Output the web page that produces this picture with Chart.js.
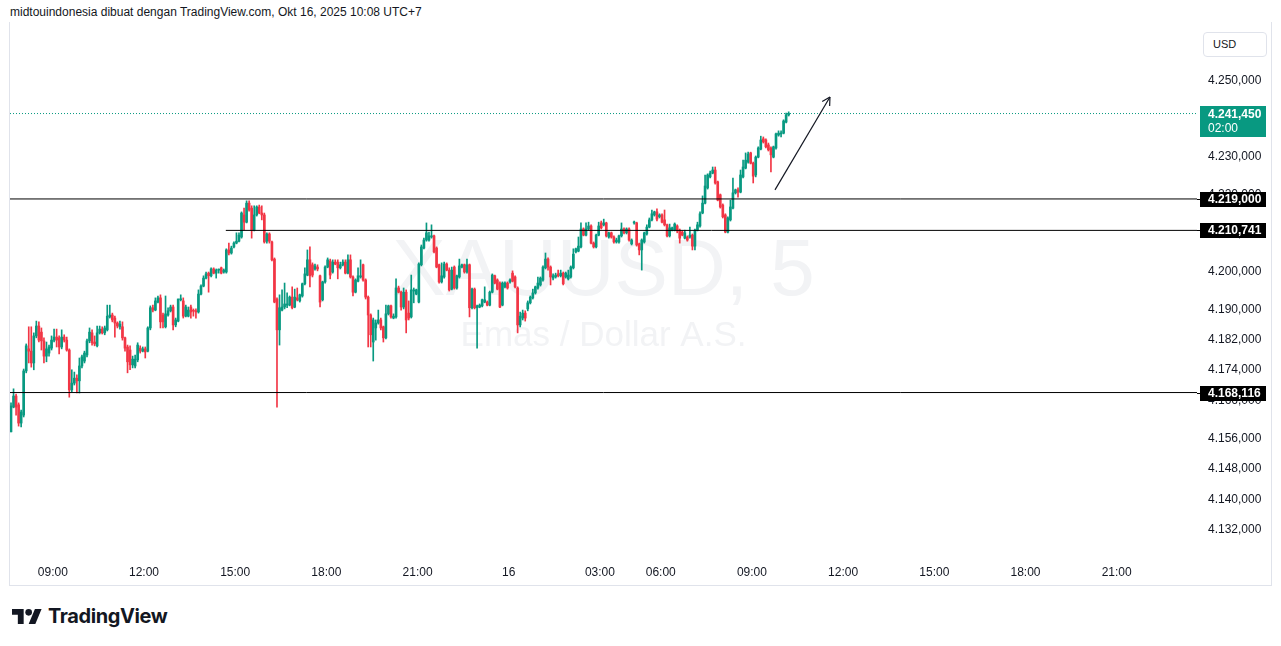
<!DOCTYPE html>
<html>
<head>
<meta charset="utf-8">
<script src="https://cdn.jsdelivr.net/npm/chart.js"></script>
<style>
html,body{margin:0;padding:0;background:#fff;width:1281px;height:646px;overflow:hidden;font-family:"Liberation Sans",Arial,sans-serif;}
#hdr{position:absolute;left:10px;top:5px;font-size:12px;line-height:14px;color:#131722;white-space:nowrap;}
#frame{position:absolute;left:9px;top:22px;width:1261px;height:563px;border-left:1px solid #e0e3eb;border-right:1px solid #e0e3eb;border-bottom:1px solid #e0e3eb;box-sizing:content-box;}
#wrap{position:absolute;left:10px;top:22px;width:1261px;height:564px;}
#usd{position:absolute;left:1203px;top:32px;border:1px solid #e0e3eb;border-radius:4px;font-size:11px;line-height:23px;color:#131722;padding-left:9px;box-sizing:border-box;width:64px;height:25px;background:#fff;}
#logo{position:absolute;left:12px;top:603px;height:26px;display:flex;align-items:center;}
#logo span{font-family:Inter,"Liberation Sans",sans-serif;font-weight:700;font-size:20px;color:#131722;letter-spacing:-0.4px;margin-left:6px;}
</style>
</head>
<body>
<div id="hdr">midtouindonesia dibuat dengan TradingView.com, Okt 16, 2025 10:08 UTC+7</div>
<div id="frame"></div>
<div id="wrap"><canvas id="c" width="1261" height="564" style="width:1261px;height:564px;"></canvas></div>
<div id="usd">USD</div>
<div id="logo"><svg width="30" height="15" viewBox="0 4 36 18"><path d="M14 22H7V11H0V4h14v18z" fill="#131722"/><circle cx="20" cy="8" r="4" fill="#131722"/><path d="M28 22h-8l7.5-18h8L28 22z" fill="#131722"/></svg><span>TradingView</span></div>
<script>
// ---- data (XAUUSD, 5 min candles) ----
const opens = [
4157.8,4164.3,4167.2,4164.9,4160.1,4162.2,4173.8,4179.6,4179.0,4175.9,
4183.0,4185.6,4184.0,4181.7,4177.7,4178.5,4179.8,4181.9,4182.7,4182.5,
4180.1,4182.7,4181.9,4179.3,4168.8,4170.6,4171.9,4171.2,4175.1,4176.4,
4178.0,4181.7,4183.8,4181.4,4180.4,4183.8,4184.8,4183.8,4184.6,4188.0,
4188.5,4187.7,4186.4,4185.4,4185.4,4182.5,4180.1,4179.3,4175.4,4175.1,
4176.7,4179.8,4179.0,4179.6,4179.0,4185.1,4190.4,4189.8,4191.9,4193.0,
4188.5,4185.4,4188.5,4189.6,4190.6,4185.9,4186.9,4192.5,4192.2,4188.2,
4188.2,4190.6,4189.6,4189.6,4189.3,4194.0,4196.1,4198.2,4199.5,4198.8,
4200.6,4199.5,4200.3,4200.9,4199.8,4199.8,4205.6,4204.8,4206.4,4207.4,
4207.9,4209.0,4214.8,4212.9,4217.9,4216.6,4210.8,4214.8,4216.9,4215.3,
4214.8,4207.9,4209.8,4207.7,4203.2,4192.7,4184.6,4189.8,4190.6,4191.1,
4191.1,4193.2,4190.6,4193.0,4192.2,4193.5,4196.7,4199.0,4203.0,4201.7,
4200.6,4201.1,4198.8,4192.5,4197.2,4201.1,4202.7,4199.8,4202.4,4202.4,
4200.9,4201.7,4202.4,4199.5,4203.0,4198.5,4194.5,4197.4,4198.5,4201.7,
4197.7,4193.2,4188.5,4181.4,4185.1,4186.4,4187.2,4185.4,4182.5,4188.8,
4190.9,4187.7,4188.0,4195.6,4194.5,4190.6,4194.5,4189.0,4188.0,4194.8,
4194.0,4191.9,4201.7,4206.1,4208.2,4208.2,4209.0,4209.3,4206.1,4201.7,
4197.2,4198.5,4201.9,4200.3,4195.3,4201.1,4195.6,4198.5,4201.1,4201.7,
4199.8,4201.7,4190.4,4195.3,4190.4,4190.6,4190.9,4191.9,4191.9,4191.1,
4194.5,4198.8,4197.7,4196.9,4191.1,4195.9,4196.9,4197.2,4199.5,4198.5,
4195.6,4185.9,4187.7,4189.0,4190.1,4191.7,4193.0,4194.3,4195.6,4196.4,
4197.7,4200.9,4203.2,4201.1,4198.2,4198.5,4199.3,4198.8,4199.5,4198.5,
4198.0,4198.5,4200.9,4205.1,4205.3,4206.4,4211.1,4209.5,4211.1,4211.9,
4207.4,4206.4,4209.5,4212.7,4212.2,4212.7,4209.0,4210.1,4209.0,4207.7,
4207.7,4209.3,4211.1,4210.1,4211.1,4207.2,4212.7,4212.7,4207.2,4205.6,
4207.7,4209.8,4211.6,4213.5,4214.8,4215.6,4214.3,4214.8,4213.5,4212.2,
4209.3,4210.8,4210.8,4211.9,4210.8,4210.3,4208.7,4209.0,4209.0,4209.5,
4206.6,4210.8,4211.9,4215.3,4217.9,4221.9,4224.8,4225.8,4226.6,4223.5,
4220.1,4217.4,4214.8,4210.3,4213.5,4216.6,4220.6,4221.4,4220.8,4224.8,
4227.1,4228.7,4231.1,4228.4,4225.3,4230.0,4232.1,4234.8,4234.5,4233.2,
4232.4,4230.0,4232.4,4235.8,4236.1,4236.3,4239.2,4241.1];
const highs = [
4165.4,4169.1,4167.7,4165.4,4163.5,4174.3,4180.9,4185.4,4185.4,4183.8,
4186.9,4186.7,4185.1,4182.5,4181.4,4180.6,4183.0,4184.8,4184.8,4183.0,
4184.6,4183.3,4182.7,4179.6,4174.1,4173.5,4172.8,4177.2,4178.0,4179.0,
4182.2,4185.1,4184.6,4183.0,4185.6,4185.6,4185.4,4185.6,4191.1,4191.1,
4189.0,4188.2,4186.7,4186.9,4186.7,4182.7,4180.6,4180.4,4177.7,4178.0,
4181.2,4180.4,4180.1,4180.1,4185.4,4190.9,4191.1,4193.0,4193.5,4193.8,
4189.0,4193.5,4190.4,4191.1,4191.1,4187.7,4192.7,4193.8,4193.0,4191.1,
4190.6,4191.1,4190.1,4190.1,4195.1,4196.4,4198.8,4199.8,4199.8,4200.9,
4200.9,4200.6,4200.6,4201.1,4200.6,4205.9,4207.4,4206.6,4207.7,4210.1,
4210.1,4215.6,4216.6,4218.5,4218.5,4217.2,4217.2,4217.2,4217.4,4217.2,
4215.3,4210.1,4210.1,4207.9,4203.5,4193.0,4193.8,4195.1,4196.9,4194.3,
4193.5,4195.9,4195.3,4195.6,4194.0,4196.9,4200.9,4205.6,4206.4,4202.2,
4201.9,4201.7,4199.0,4197.4,4201.4,4203.5,4203.2,4203.0,4203.0,4203.0,
4202.4,4203.0,4203.0,4204.3,4204.3,4198.8,4198.0,4200.9,4203.0,4201.9,
4198.0,4193.5,4188.8,4187.7,4187.2,4189.8,4187.7,4185.6,4191.1,4191.1,
4191.1,4188.8,4198.0,4196.1,4194.8,4195.6,4195.1,4192.2,4199.0,4195.6,
4195.3,4202.2,4206.9,4208.7,4212.7,4210.3,4212.2,4209.5,4206.4,4201.9,
4202.2,4202.4,4202.2,4200.9,4201.1,4201.4,4199.0,4203.2,4201.9,4201.9,
4203.2,4201.9,4195.6,4195.6,4191.1,4191.4,4192.7,4195.9,4192.2,4194.8,
4199.3,4199.0,4198.0,4197.2,4197.2,4197.2,4197.2,4198.0,4200.1,4198.8,
4195.9,4189.3,4189.8,4189.6,4192.2,4193.5,4195.3,4196.1,4198.5,4198.5,
4201.4,4204.8,4203.5,4201.4,4199.3,4199.5,4200.3,4200.3,4199.8,4199.8,
4200.3,4201.4,4205.9,4206.1,4209.0,4212.7,4211.4,4212.7,4212.9,4212.2,
4207.7,4209.8,4212.9,4213.2,4213.7,4212.9,4210.3,4210.3,4209.3,4208.7,
4209.5,4212.7,4211.4,4211.4,4211.4,4208.5,4213.2,4212.9,4207.4,4208.5,
4210.3,4212.2,4214.0,4216.1,4215.8,4216.4,4215.1,4215.1,4216.1,4212.4,
4212.4,4211.6,4212.7,4212.2,4211.1,4210.6,4210.8,4209.3,4211.6,4209.8,
4211.1,4212.9,4215.6,4219.8,4225.3,4225.6,4226.3,4227.4,4227.4,4223.7,
4220.3,4217.7,4215.1,4214.3,4218.7,4224.5,4221.6,4221.9,4226.6,4229.2,
4231.1,4231.3,4231.3,4228.7,4230.3,4232.7,4235.5,4235.3,4234.8,4233.7,
4232.7,4232.9,4236.3,4236.9,4236.9,4239.8,4241.6,4241.9];
const lows = [
4157.8,4164.1,4162.2,4159.3,4159.1,4161.7,4173.3,4175.9,4174.8,4174.1,
4182.5,4181.4,4179.3,4175.9,4176.2,4177.7,4179.3,4181.4,4180.1,4178.3,
4179.6,4181.4,4179.0,4166.9,4168.3,4170.1,4168.0,4168.0,4174.6,4175.9,
4177.5,4181.2,4180.6,4180.4,4180.1,4183.5,4183.5,4183.3,4184.3,4187.7,
4186.7,4182.7,4185.1,4184.8,4181.9,4179.0,4173.3,4174.1,4174.6,4174.6,
4176.2,4178.5,4178.8,4177.2,4178.8,4184.6,4189.3,4189.6,4191.7,4185.1,
4185.1,4185.1,4188.2,4189.3,4184.6,4185.4,4186.7,4192.2,4187.7,4188.0,
4188.0,4187.7,4188.2,4187.7,4189.0,4193.8,4195.9,4198.0,4194.5,4198.5,
4199.3,4198.2,4199.5,4199.3,4199.5,4199.5,4204.3,4204.5,4206.1,4207.2,
4207.7,4208.7,4210.8,4212.7,4215.8,4208.7,4210.6,4214.5,4215.1,4213.5,
4207.4,4207.4,4207.4,4202.7,4191.7,4164.3,4180.6,4189.6,4190.1,4190.4,
4190.9,4190.1,4190.4,4192.2,4191.9,4193.2,4196.4,4198.8,4195.9,4198.5,
4200.3,4200.1,4190.6,4192.2,4196.9,4200.9,4198.0,4199.5,4201.7,4198.0,
4200.6,4201.4,4199.3,4199.3,4198.2,4193.5,4194.3,4197.2,4198.2,4197.4,
4192.7,4180.1,4180.1,4176.4,4181.9,4186.1,4184.6,4181.4,4182.2,4188.5,
4187.7,4187.5,4187.7,4194.3,4189.8,4190.1,4183.8,4187.2,4187.7,4191.7,
4193.8,4191.7,4201.4,4205.9,4207.9,4207.9,4208.7,4204.8,4200.9,4196.9,
4196.9,4198.2,4200.1,4194.8,4195.1,4195.3,4195.3,4198.2,4200.9,4199.5,
4199.5,4188.0,4190.1,4190.1,4179.8,4190.4,4190.6,4191.7,4190.9,4190.9,
4194.3,4196.7,4195.1,4190.4,4190.9,4195.6,4195.3,4196.9,4197.2,4195.6,
4183.8,4185.4,4187.2,4186.9,4189.6,4191.4,4192.7,4194.0,4195.3,4196.1,
4197.4,4200.6,4200.3,4196.4,4197.7,4198.2,4198.5,4198.5,4196.4,4198.2,
4197.7,4198.2,4200.6,4204.8,4205.1,4206.1,4209.3,4209.3,4210.8,4207.2,
4206.1,4206.1,4209.3,4211.1,4211.9,4209.0,4208.7,4208.7,4207.4,4207.4,
4207.4,4209.0,4209.8,4209.8,4207.9,4206.9,4212.4,4206.6,4204.3,4200.3,
4207.4,4209.5,4211.4,4213.2,4214.5,4213.2,4214.0,4212.7,4211.9,4209.0,
4209.0,4210.6,4210.6,4210.1,4207.4,4209.3,4208.5,4207.9,4208.7,4205.6,
4205.6,4210.6,4211.6,4215.1,4217.7,4221.6,4224.5,4225.6,4222.9,4218.5,
4216.6,4214.0,4210.1,4210.1,4213.2,4216.4,4220.3,4219.5,4220.6,4224.5,
4226.9,4228.4,4228.2,4223.2,4224.8,4229.8,4231.9,4233.7,4232.4,4231.6,
4226.1,4229.8,4232.1,4235.5,4235.3,4236.1,4239.0,4240.8];
const closes = [
4164.6,4167.2,4164.3,4160.1,4163.0,4173.8,4180.4,4179.0,4175.9,4183.0,
4185.6,4181.9,4181.7,4177.7,4179.6,4180.1,4181.9,4182.7,4181.9,4180.1,
4182.7,4181.9,4179.3,4168.8,4170.6,4171.9,4171.2,4175.1,4177.5,4178.5,
4181.7,4184.0,4181.2,4180.9,4183.8,4184.8,4183.8,4185.1,4188.2,4188.5,
4187.2,4186.4,4185.6,4186.1,4182.5,4179.8,4176.2,4175.4,4176.9,4176.9,
4180.6,4179.0,4179.6,4178.8,4185.1,4190.4,4189.8,4192.2,4193.0,4186.7,
4186.7,4188.8,4189.6,4190.6,4185.9,4187.2,4192.7,4192.7,4188.2,4190.6,
4189.8,4189.3,4189.5,4189.3,4194.0,4196.1,4198.2,4199.3,4198.8,4200.6,
4199.5,4200.3,4200.4,4199.5,4200.3,4205.6,4204.8,4206.1,4207.4,4207.9,
4209.5,4215.3,4212.9,4217.9,4216.1,4210.8,4214.8,4216.9,4215.3,4214.8,
4207.7,4209.8,4207.9,4203.0,4191.9,4184.6,4190.4,4190.6,4191.4,4191.4,
4193.2,4190.4,4193.2,4192.5,4193.8,4196.7,4199.3,4203.0,4198.8,4199.0,
4201.4,4200.6,4191.9,4197.2,4201.1,4203.0,4199.0,4202.4,4201.9,4200.9,
4201.7,4202.4,4199.5,4203.0,4198.5,4194.5,4197.7,4198.8,4198.8,4197.7,
4193.2,4188.5,4183.3,4187.2,4186.4,4187.2,4185.1,4182.5,4188.8,4190.9,
4188.0,4188.2,4195.6,4194.5,4190.6,4194.5,4187.2,4187.7,4195.1,4195.1,
4195.1,4201.9,4206.4,4208.2,4210.1,4209.3,4209.3,4205.1,4201.1,4197.2,
4198.8,4201.9,4200.3,4195.1,4200.3,4195.6,4198.8,4201.4,4201.7,4199.8,
4201.7,4190.4,4195.3,4190.4,4190.9,4191.1,4192.5,4192.5,4191.1,4194.5,
4199.0,4196.9,4195.3,4190.6,4196.9,4196.9,4195.6,4197.7,4197.4,4195.9,
4185.9,4188.2,4189.0,4187.7,4191.7,4193.2,4194.3,4195.9,4196.9,4198.2,
4201.1,4203.2,4201.1,4198.5,4198.8,4199.0,4198.8,4199.5,4196.7,4199.5,
4199.0,4201.1,4204.5,4205.9,4206.6,4211.1,4209.5,4211.1,4211.9,4207.4,
4206.4,4209.5,4211.9,4211.4,4212.7,4209.3,4210.1,4209.0,4207.7,4208.2,
4209.3,4211.1,4210.1,4211.1,4208.2,4208.2,4212.9,4206.9,4205.6,4208.2,
4210.1,4211.6,4213.5,4215.1,4215.6,4213.7,4214.8,4212.9,4212.2,4209.3,
4211.4,4211.4,4212.4,4210.6,4208.7,4209.5,4210.1,4208.2,4209.5,4206.6,
4210.8,4212.2,4215.1,4217.9,4222.4,4225.3,4225.8,4226.6,4223.2,4218.7,
4216.9,4214.3,4210.3,4214.0,4216.9,4220.6,4221.4,4220.8,4225.3,4227.4,
4229.2,4230.8,4228.4,4225.0,4230.0,4232.4,4234.5,4234.0,4232.7,4231.9,
4230.6,4232.7,4236.1,4236.3,4236.3,4239.5,4241.1,4241.45];

// time axis: tick slot (candle index) and label
const xTickSlots  = [16.5, 52.5, 88.5, 124.5, 160.5, 196.5, 232.5, 256.5, 292.5, 328.5, 364.5, 400.5, 436.5];
const xTickLabels = ['09:00','12:00','15:00','18:00','21:00','16','03:00','06:00','09:00','12:00','15:00','18:00','21:00'];
// price axis ticks
const yTickValues = [4250,4240,4230,4220,4210,4200,4190,4182,4174,4166,4156,4148,4140,4132];
// drawn horizontal levels and where each starts (candle index)
const levelPrices = [4219.000, 4210.741, 4168.116];
const levelStarts = [-0.4, 84.8, -0.4];
// arrow drawing (candle index, price)
const arrowPoints = [{x:301.6, y:4221.4}, {x:323.3, y:4245.8}];
const countdown = '02:00';
const watermarkTitle = 'XAUUSD, 5';
const watermarkSub = 'Emas / Dollar A.S.';

// ---- chart ----
const UP = '#089981', DOWN = '#F23645';
const X_MIN = -0.4, X_MAX = 468.2, Y_MIN = 4125.16, Y_MAX = 4265.51;
const lastPrice = closes[closes.length - 1];
const colors = closes.map((c, i) => c >= opens[i] ? UP : DOWN);
const wickData = highs.map((h, i) => ({x: i, y: [lows[i], h]}));
const bodyData = opens.map((o, i) => ({x: i, y: [o, closes[i]]}));

function fmt(v){
  const s = v.toFixed(3).split('.');
  return s[0].replace(/\B(?=(\d{3})+(?!\d))/g, '.') + ',' + s[1];
}
const FONT = '"Liberation Sans", Arial, sans-serif';

const levelSets = levelPrices.map((p, k) => ({
  type: 'line', data: [{x: levelStarts[k], y: p}, {x: X_MAX, y: p}],
  borderColor: '#000', borderWidth: 1, pointRadius: 0, order: 0
}));

const overlay = {
  id: 'overlay',
  beforeDatasetsDraw(chart){
    const {ctx, chartArea: a} = chart;
    ctx.save();
    ctx.fillStyle = '#f2f3f5';
    ctx.textAlign = 'center';
    ctx.textBaseline = 'alphabetic';
    const cx = (a.left + a.right) / 2;
    ctx.font = '80px ' + FONT;
    ctx.fillText(watermarkTitle, cx, 273);
    ctx.font = '35px ' + FONT;
    ctx.fillText(watermarkSub, cx, 324);
    ctx.restore();
  },
  afterDraw(chart){
    const {ctx, chartArea: a} = chart;
    const ys = chart.scales.y;
    ctx.save();
    // arrow head
    const meta = chart.getDatasetMeta(chart.data.datasets.findIndex(d => d.label === 'arrow'));
    if (meta && meta.data.length === 2){
      const p0 = meta.data[0], p1 = meta.data[1];
      const ang = Math.atan2(p1.y - p0.y, p1.x - p0.x);
      ctx.strokeStyle = '#131722'; ctx.lineWidth = 1.2;
      ctx.beginPath();
      for (const s of [-1, 1]){
        ctx.moveTo(p1.x, p1.y);
        ctx.lineTo(p1.x - 9 * Math.cos(ang + s * 0.5), p1.y - 9 * Math.sin(ang + s * 0.5));
      }
      ctx.stroke();
    }
    const bx = a.right + 3, bw = 66;
    // level labels
    ctx.textBaseline = 'middle';
    ctx.textAlign = 'left';
    levelPrices.forEach(p => {
      const y = ys.getPixelForValue(p);
      ctx.strokeStyle = '#000'; ctx.lineWidth = 1;
      ctx.beginPath(); ctx.moveTo(a.right, Math.round(y) + 0.5); ctx.lineTo(bx, Math.round(y) + 0.5); ctx.stroke();
      ctx.fillStyle = '#000';
      ctx.fillRect(bx, Math.round(y) - 7, bw, 15);
      ctx.fillStyle = '#fff';
      ctx.font = 'bold 12px ' + FONT;
      ctx.fillText(fmt(p), bx + 8, Math.round(y) + 1);
    });
    // last price label
    const yl = ys.getPixelForValue(lastPrice);
    ctx.fillStyle = UP;
    ctx.fillRect(bx, Math.round(yl) - 8, bw, 31);
    ctx.fillStyle = '#fff';
    ctx.font = 'bold 12px ' + FONT;
    ctx.fillText(fmt(lastPrice), bx + 8, Math.round(yl) + 1);
    ctx.font = '12px ' + FONT;
    ctx.fillText(countdown, bx + 8, Math.round(yl) + 15);
    ctx.restore();
  }
};

new Chart(document.getElementById('c'), {
  type: 'bar',
  data: {
    datasets: [
      {label: 'wick', data: wickData, backgroundColor: colors, barThickness: 1, grouped: false, borderWidth: 0, order: 3},
      {label: 'body', data: bodyData, backgroundColor: colors, barThickness: 2, minBarLength: 1, grouped: false, borderWidth: 0, order: 2},
      {type: 'line', label: 'last', data: [{x: X_MIN, y: lastPrice}, {x: X_MAX, y: lastPrice}], borderColor: UP, borderWidth: 1, borderDash: [1, 2], pointRadius: 0, order: 4},
      ...levelSets,
      {type: 'line', label: 'arrow', data: arrowPoints, borderColor: '#131722', borderWidth: 1.2, pointRadius: 0, order: 0}
    ]
  },
  options: {
    responsive: false,
    devicePixelRatio: 1,
    animation: false,
    layout: {padding: 0},
    plugins: {legend: {display: false}, tooltip: {enabled: false}},
    scales: {
      x: {
        type: 'linear', min: X_MIN, max: X_MAX, position: 'bottom', offset: false,
        grid: {display: false, drawTicks: false, offset: false}, border: {display: false},
        afterFit(s){ s.height = 30; s.paddingLeft = 0; s.paddingRight = 0; s.paddingTop = 0; s.paddingBottom = 0; },
        afterBuildTicks(s){ s.ticks = xTickSlots.map(v => ({value: v})); },
        ticks: {
          autoSkip: false, maxRotation: 0, padding: 9, color: '#131722',
          font: {family: FONT, size: 12},
          callback(v){ const k = xTickSlots.indexOf(v); return k >= 0 ? xTickLabels[k] : ''; }
        }
      },
      y: {
        type: 'linear', min: Y_MIN, max: Y_MAX, position: 'right',
        grid: {display: false, drawTicks: false}, border: {display: false},
        afterFit(s){ s.width = 74; s.paddingTop = 0; s.paddingBottom = 0; s.paddingLeft = 0; s.paddingRight = 0; },
        afterBuildTicks(s){ s.ticks = yTickValues.map(v => ({value: v})); },
        ticks: {
          autoSkip: false, padding: 11, color: '#131722',
          font: {family: FONT, size: 12},
          callback(v){ return fmt(v); }
        }
      }
    }
  },
  plugins: [overlay]
});
</script>
</body>
</html>
